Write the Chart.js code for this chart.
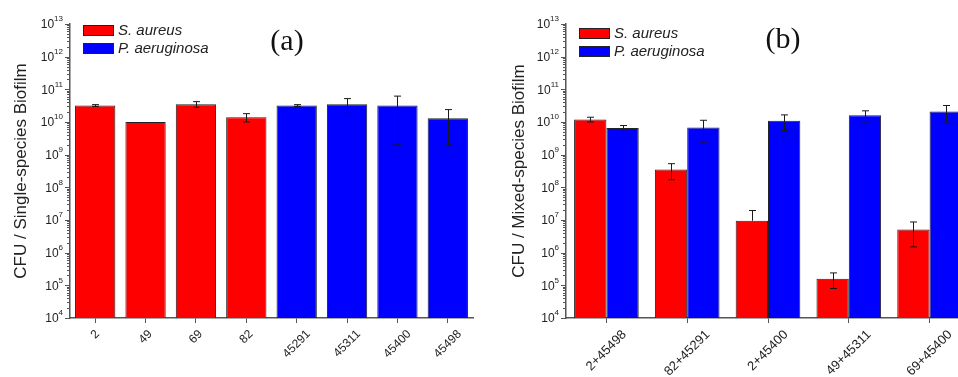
<!DOCTYPE html>
<html>
<head>
<meta charset="utf-8">
<script src="https://cdn.jsdelivr.net/npm/chart.js@4.4.0/dist/chart.umd.min.js"></script>
<style>
html, body { margin: 0; padding: 0; background: #fff; overflow: hidden; width: 958px; height: 377px; }
#chartA { position: absolute; left: 0; top: 0; }
#chartB { position: absolute; left: 480px; top: 0; }
</style>
</head>
<body>
<canvas id="chartA" width="480" height="377"></canvas>
<canvas id="chartB" width="500" height="377"></canvas>
<script>
// panel (a): single-species biofilms
const strainsA = ['2', '49', '69', '82', '45291', '45311', '45400', '45498']
const saureusA = [3.2e10, 1.0e10, 3.5e10, 1.4e10, null, null, null, null]
const saureusSdA = [0.2e10, 0, 0.7e10, 0.4e10, null, null, null, null]
const paeruginosaA = [null, null, null, null, 3.2e10, 3.5e10, 3.2e10, 1.3e10]
const paeruginosaSdA = [null, null, null, null, 0.2e10, 1.7e10, 3.0e10, 1.1e10]

// panel (b): mixed-species biofilms
const pairsB = ['2+45498', '82+45291', '2+45400', '49+45311', '69+45400']
const saureusB = [1.2e10, 3.5e8, 9.5e6, 1.6e5, 5.1e6]
const saureusSdB = [0.2e10, 1.8e8, 1.0e7, 0.8e5, 3.6e6]
const paeruginosaB = [6.5e9, 6.8e9, 1.1e10, 1.6e10, 2.1e10]
const paeruginosaSdB = [1.3e9, 4.5e9, 5.5e9, 0.6e10, 1.1e10]

// y axis
const yExponents = [4, 5, 6, 7, 8, 9, 10, 11, 12, 13]

const RED = '#ff0000'
const BLUE = '#0000ff'
const SANS = "'Liberation Sans', Arial, sans-serif"

// draws everything Origin-like that Chart.js does not: error bars, log ticks,
// superscript tick labels, centred rotated category labels, legend, panel tag
function decorPlugin(opts) {
    return {
        id: 'decor',
        afterDatasetsDraw(chart) {
            const ctx = chart.ctx
            const ys = chart.scales.y

            // error bars
            ctx.save()
            ctx.strokeStyle = '#1a1a1a'
            ctx.lineWidth = 1
            chart.data.datasets.forEach((ds, di) => {
                const meta = chart.getDatasetMeta(di)
                ds.data.forEach((v, i) => {
                    const sd = ds.sd[i]
                    if (v == null || !sd) return
                    const bx = Math.round(meta.data[i].x) + 0.5
                    const hi = ys.getPixelForValue(v + sd)
                    const lo = v - sd > 0 ? ys.getPixelForValue(v - sd) : ys.getPixelForValue(v)
                    ctx.beginPath()
                    ctx.moveTo(bx, hi)
                    ctx.lineTo(bx, lo)
                    ctx.moveTo(bx - 3.5, hi)
                    ctx.lineTo(bx + 3.5, hi)
                    if (v - sd > 0) {
                        ctx.moveTo(bx - 3.5, lo)
                        ctx.lineTo(bx + 3.5, lo)
                    }
                    ctx.stroke()
                })
            })
            ctx.restore()
        },
        afterDraw(chart) {
            const ctx = chart.ctx
            const xs = chart.scales.x
            const ys = chart.scales.y
            const area = chart.chartArea

            // log ticks, major and minor, pointing out of the axis
            ctx.save()
            ctx.strokeStyle = '#555'
            ctx.lineWidth = 1
            ctx.beginPath()
            for (let e = 4; e <= 13; e++) {
                for (let m = 1; m <= 9; m++) {
                    if (e === 13 && m > 1) break
                    const py = Math.round(ys.getPixelForValue(m * Math.pow(10, e))) + 0.5
                    const len = m === 1 ? 5 : 3
                    ctx.moveTo(area.left - len, py)
                    ctx.lineTo(area.left, py)
                }
            }
            ctx.stroke()

            // y labels 10^n
            ctx.fillStyle = '#222'
            ctx.textBaseline = 'middle'
            yExponents.forEach(e => {
                const py = ys.getPixelForValue(Math.pow(10, e))
                const exp = String(e)
                ctx.font = '8px ' + SANS
                const ew = ctx.measureText(exp).width
                ctx.textAlign = 'left'
                const right = area.left - 7
                ctx.fillText(exp, right - ew, py - 5)
                ctx.font = '12px ' + SANS
                ctx.textAlign = 'right'
                ctx.fillText('10', right - ew, py + 1)
            })

            // category labels rotated 45deg, centred below the tick
            ctx.font = opts.xFont + 'px ' + SANS
            ctx.textAlign = 'center'
            ctx.textBaseline = 'middle'
            chart.data.labels.forEach((lab, i) => {
                const px = xs.getPixelForTick(i)
                const w = ctx.measureText(lab).width
                const ext = (w + opts.xFont) * Math.SQRT1_2
                ctx.save()
                ctx.translate(px, area.bottom + 10 + ext / 2)
                ctx.rotate(-Math.PI / 4)
                ctx.fillText(lab, 0, 0)
                ctx.restore()
            })

            // legend inside the plot
            const lg = opts.legend
            chart.data.datasets.forEach((ds, di) => {
                const top = lg.y + di * 18
                ctx.fillStyle = ds.backgroundColor
                ctx.fillRect(lg.x, top, 31, 11)
                ctx.strokeStyle = '#222'
                ctx.strokeRect(lg.x + 0.5, top + 0.5, 30, 10)
                ctx.fillStyle = '#222'
                ctx.font = 'italic 15px ' + SANS
                ctx.textAlign = 'left'
                ctx.textBaseline = 'middle'
                ctx.fillText(ds.label, lg.x + 35, top + 6)
            })

            // panel tag
            ctx.fillStyle = '#111'
            ctx.font = "30px 'Liberation Serif', 'Times New Roman', serif"
            ctx.textAlign = 'center'
            ctx.textBaseline = 'middle'
            ctx.fillText(opts.tag, opts.tagX, opts.tagY)
            ctx.restore()
        }
    }
}

function makeChart(id, labels, datasets, o) {
    return new Chart(document.getElementById(id), {
        type: 'bar',
        data: { labels, datasets },
        options: {
            responsive: false,
            animation: false,
            layout: { padding: { top: 24, right: o.padRight, left: 0, bottom: 0 } },
            datasets: {
                bar: {
                    borderColor: '#222',
                    borderWidth: 1,
                    barPercentage: o.barPct,
                    categoryPercentage: o.catPct,
                    skipNull: true
                }
            },
            scales: {
                x: {
                    offset: true,
                    ticks: { display: false },
                    grid: { drawOnChartArea: false, offset: false, tickLength: 5, color: '#555' },
                    border: { color: '#555', width: 1.5 },
                    afterFit: s => { s.height = 59 }
                },
                y: {
                    type: 'logarithmic',
                    min: 1e4,
                    max: 1e13,
                    afterBuildTicks: s => { s.ticks = yExponents.map(e => ({ value: Math.pow(10, e) })) },
                    ticks: { display: false },
                    grid: { drawOnChartArea: false, drawTicks: false },
                    border: { color: '#555', width: 1.5 },
                    title: {
                        display: true,
                        text: o.yTitle,
                        color: '#222',
                        font: { family: SANS, size: 17 },
                        padding: { top: o.titlePad, bottom: 0 }
                    },
                    afterFit: s => { s.width = o.axisLeft }
                }
            },
            plugins: {
                legend: { display: false },
                tooltip: { enabled: false }
            }
        },
        plugins: [decorPlugin(o)]
    })
}

makeChart('chartA', strainsA, [
    { label: 'S. aureus', data: saureusA, sd: saureusSdA, backgroundColor: RED },
    { label: 'P. aeruginosa', data: paeruginosaA, sd: paeruginosaSdA, backgroundColor: BLUE }
], {
    padRight: 7, axisLeft: 70, barPct: 0.8, catPct: 1.0,
    yTitle: 'CFU / Single-species Biofilm', titlePad: 11,
    xFont: 12, legend: { x: 83, y: 25 }, tag: '(a)', tagX: 287, tagY: 42
})

makeChart('chartB', pairsB, [
    { label: 'S. aureus', data: saureusB, sd: saureusSdB, backgroundColor: RED },
    { label: 'P. aeruginosa', data: paeruginosaB, sd: paeruginosaSdB, backgroundColor: BLUE }
], {
    padRight: 10, axisLeft: 86, barPct: 1.0, catPct: 0.8,
    yTitle: 'CFU / Mixed-species Biofilm', titlePad: 29,
    xFont: 13, legend: { x: 99, y: 28 }, tag: '(b)', tagX: 303, tagY: 40
})
</script>
</body>
</html>
